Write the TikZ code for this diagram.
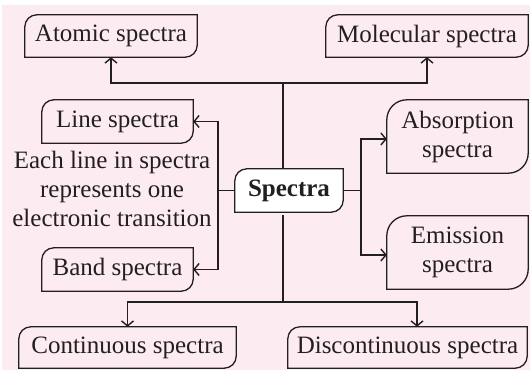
\documentclass[tikz,border=0pt]{standalone}
\usepackage{fontspec}
\setmainfont{Liberation Serif}
\usetikzlibrary{arrows.meta,backgrounds}
\definecolor{bgpink}{RGB}{252,236,241}
\definecolor{ink}{RGB}{35,31,32}
\newcommand\cutbox[3][]{\draw[boxline,#1] (#2.south west) -- ([yshift=-#3]#2.north west) arc[start angle=180,end angle=90,radius=#3] -- (#2.north east) -- ([yshift=#3]#2.south east) arc[start angle=0,end angle=-90,radius=#3] -- cycle;}
\begin{document}
\begin{tikzpicture}[x=1pt,y=1pt,
  font=\fontsize{25}{29}\selectfont,
  txt/.style={inner sep=0pt, text=ink},
  boxline/.style={draw=ink, line width=1.3pt},
  conn/.style={draw=ink, line width=1.4pt},
  arr/.style={conn, -{Straight Barb[length=5pt,width=12pt,line width=1.4pt]}}]
\useasboundingbox (0,0) rectangle (530,370);
\begin{scope}[on background layer]
\fill[bgpink] (2,0) rectangle (530,365);
\end{scope}
\node[txt, minimum width=172pt, minimum height=42pt] (atomic) at (111,334) {Atomic spectra};
\node[txt, minimum width=202pt, minimum height=42pt] (molecular) at (427,334) {Molecular spectra};
\node[txt, minimum width=151pt, minimum height=43pt] (line) at (117.5,248.5) {Line spectra};
\node[txt, minimum width=151pt, minimum height=43pt] (band) at (117.5,100.5) {Band spectra};
\node[txt, align=center] (note) at (112,181) {Each line in spectra\\represents one\\electronic transition};
\node[txt, minimum width=108pt, minimum height=43pt, font=\fontsize{25}{29}\selectfont\bfseries] (spectra) at (289,179.5) {Spectra};
\node[txt, align=center, minimum width=141pt, minimum height=73pt] (absorption) at (457.5,233.5) {Absorption\\spectra};
\node[txt, align=center, minimum width=141pt, minimum height=73pt] (emission) at (457.5,117.5) {Emission\\spectra};
\node[txt, minimum width=217pt, minimum height=41pt] (continuous) at (127.5,22.5) {Continuous spectra};
\node[txt, minimum width=239pt, minimum height=41pt] (discontinuous) at (407.5,22.5) {Discontinuous spectra};
\begin{scope}[on background layer]
\cutbox{atomic}{12pt}
\cutbox{molecular}{12pt}
\cutbox{line}{12pt}
\cutbox{band}{12pt}
\cutbox[fill=white]{spectra}{12pt}
\cutbox{absorption}{20pt}
\cutbox{emission}{20pt}
\cutbox{continuous}{12pt}
\cutbox{discontinuous}{12pt}
\end{scope}
\coordinate (topbar) at (283,287);
\coordinate (lbar) at (218,179.5);
\coordinate (rbar) at (361,179.5);
\coordinate (botbar) at (283,68);
\draw[conn] (spectra.north -| topbar) -- (topbar);
\draw[arr] (topbar) -| (atomic.south);
\draw[arr] (topbar) -| (molecular.south);
\draw[conn] (spectra.west) -- (lbar);
\draw[arr] (lbar) |- (line.east);
\draw[arr] (lbar) |- (band.east);
\draw[conn] (spectra.east) -- (rbar);
\draw[arr] (rbar) |- ([yshift=-2.5pt]absorption.west);
\draw[arr] (rbar) |- ([yshift=-2.5pt]emission.west);
\draw[conn] ([yshift=-3pt]spectra.south -| botbar) -- (botbar);
\draw[arr] (botbar) -| (continuous.north);
\draw[arr] (botbar) -| ([xshift=9.5pt]discontinuous.north);
\end{tikzpicture}
\end{document}
